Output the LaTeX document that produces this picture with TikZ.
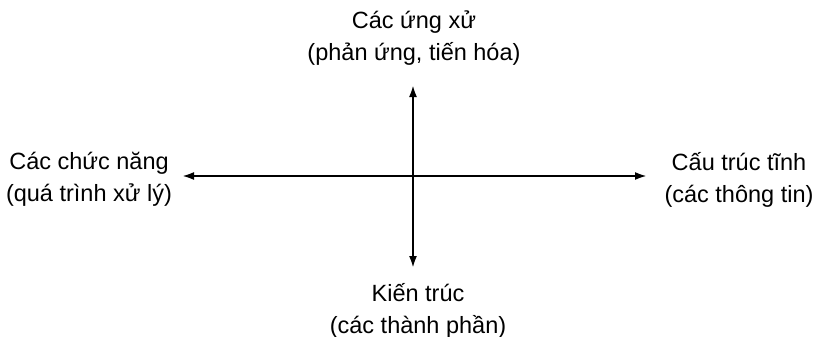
\documentclass[tikz,border=0pt]{standalone}
\usepackage{fontspec}
\setmainfont{Liberation Sans}
\usetikzlibrary{arrows.meta}
\begin{document}
\begin{tikzpicture}[x=1pt,y=-1pt,
  lbl/.style={font=\fontsize{23.5}{32}\selectfont, align=center, inner sep=0pt},
  axis/.style={line width=2.2pt, -{Latex[length=12pt,width=8pt]}}]
\useasboundingbox[fill=white] (0,0) rectangle (822,337);
\coordinate (o) at (413,176);
\coordinate (t) at (413,85);
\coordinate (b) at (413,268);
\coordinate (l) at (182,176);
\coordinate (r) at (647,176);
\draw[axis] (o) -- (t);
\draw[axis] (o) -- (b);
\draw[axis] (o) -- (l);
\draw[axis] (o) -- (r);
\node[lbl] (top) at (414,38) {Các ứng xử\\(phản ứng, tiến hóa)};
\node[lbl] (left) at (89,179) {Các chức năng\\(quá trình xử lý)};
\node[lbl] (right) at (739,180) {Cấu trúc tĩnh\\(các thông tin)};
\node[lbl] (bot) at (418,311) {Kiến trúc\\(các thành phần)};
\end{tikzpicture}
\end{document}
